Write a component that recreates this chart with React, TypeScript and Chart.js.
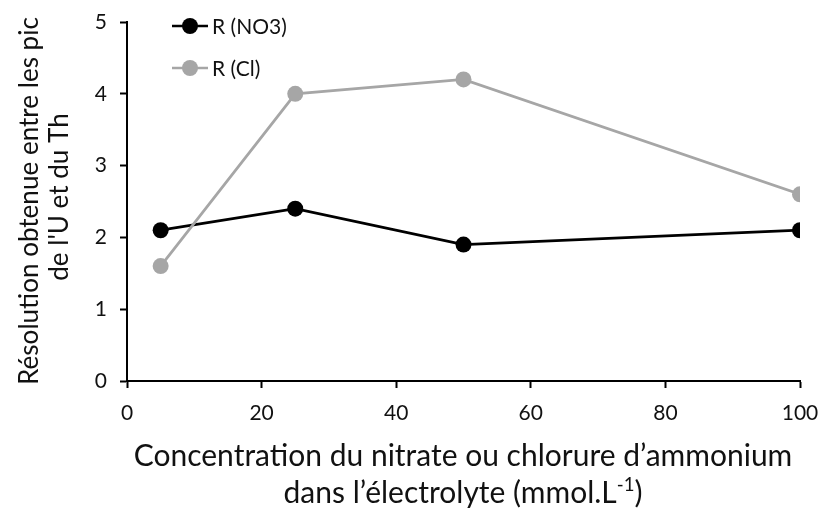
import React, { useEffect, useRef } from "react";
import { Chart, registerables } from "chart.js";

Chart.register(...registerables);

const concentrations = [5, 25, 50, 100];
const rNO3 = [2.1, 2.4, 1.9, 2.1];
const rCl = [1.6, 4.0, 4.2, 2.6];
const seriesLabels = ["R (NO3)", "R (Cl)"];
const seriesColors = ["#000000", "#A6A6A6"];
const yTitleLines = ["Résolution obtenue entre les pic", "de l'U et du Th"];
const xTitleLine1 = "Concentration du nitrate ou chlorure d\u2019ammonium";
const xTitleLine2Main = "dans l\u2019électrolyte (mmol.L";
const xTitleSup = "-1";
const xTitleLine2End = ")";

const FONT = "Lato, 'Open Sans', sans-serif";
const TEXT = "#111111";

function fitSize(ctx: CanvasRenderingContext2D, text: string, width: number) {
  ctx.font = `100px ${FONT}`;
  const w = ctx.measureText(text).width;
  return (100 * width) / w;
}

const textPlugin = {
  id: "customText",
  afterDraw(chart: any) {
    const ctx: CanvasRenderingContext2D = chart.ctx;
    ctx.save();
    ctx.fillStyle = TEXT;
    // X title line 1
    const s1 = Math.min(30, fitSize(ctx, xTitleLine1, 664));
    ctx.font = `${s1}px ${FONT}`;
    ctx.textBaseline = "alphabetic";
    ctx.textAlign = "center";
    const cx = 463;
    ctx.fillText(xTitleLine1, cx, 466);
    // X title line 2 with superscript
    ctx.font = `${s1}px ${FONT}`;
    const wMain = ctx.measureText(xTitleLine2Main).width;
    const wEnd = ctx.measureText(xTitleLine2End).width;
    const supSize = s1 * 0.62;
    ctx.font = `${supSize}px ${FONT}`;
    const wSup = ctx.measureText(xTitleSup).width;
    const total = wMain + wSup + wEnd;
    let x = cx - total / 2;
    ctx.textAlign = "left";
    ctx.font = `${s1}px ${FONT}`;
    ctx.fillText(xTitleLine2Main, x, 503);
    x += wMain;
    ctx.font = `${supSize}px ${FONT}`;
    ctx.fillText(xTitleSup, x, 503 - s1 * 0.4);
    x += wSup;
    ctx.font = `${s1}px ${FONT}`;
    ctx.fillText(xTitleLine2End, x, 503);

    // Y title
    const cy = 201;
    const sy = Math.min(30, fitSize(ctx, yTitleLines[0], 368));
    ctx.font = `${sy}px ${FONT}`;
    ctx.textAlign = "center";
    ctx.textBaseline = "alphabetic";
    ctx.save();
    ctx.translate(38, cy);
    ctx.rotate(-Math.PI / 2);
    ctx.fillText(yTitleLines[0], 0, 0);
    ctx.restore();
    ctx.save();
    ctx.translate(68, cy - 4);
    ctx.rotate(-Math.PI / 2);
    ctx.fillText(yTitleLines[1], 0, 0);
    ctx.restore();

    // Legend
    const rows = [26, 68];
    ctx.font = `21px ${FONT}`;
    ctx.textAlign = "left";
    ctx.textBaseline = "middle";
    rows.forEach((y, i) => {
      ctx.strokeStyle = seriesColors[i];
      ctx.lineWidth = 2.5;
      ctx.beginPath();
      ctx.moveTo(172, y);
      ctx.lineTo(208, y);
      ctx.stroke();
      ctx.fillStyle = seriesColors[i];
      ctx.beginPath();
      ctx.arc(190, y, 8, 0, Math.PI * 2);
      ctx.fill();
      ctx.fillStyle = TEXT;
      ctx.fillText(seriesLabels[i], 212, y + 1);
    });
    ctx.restore();
  },
};

export default function App() {
  const ref = useRef<HTMLCanvasElement | null>(null);
  useEffect(() => {
    if (!ref.current) return;
    const makeData = (vals: number[]) => concentrations.map((c, i) => ({ x: c, y: vals[i] }));
    const chart = new Chart(ref.current, {
      type: "line",
      data: {
        datasets: [
          {
            label: seriesLabels[1],
            data: makeData(rCl),
            borderColor: seriesColors[1],
            backgroundColor: seriesColors[1],
            borderWidth: 2.75,
            pointRadius: 8,
            pointHoverRadius: 8,
            pointBorderWidth: 0,
            tension: 0,
          },
          {
            label: seriesLabels[0],
            data: makeData(rNO3),
            borderColor: seriesColors[0],
            backgroundColor: seriesColors[0],
            borderWidth: 2.75,
            pointRadius: 8,
            pointHoverRadius: 8,
            pointBorderWidth: 0,
            tension: 0,
          },
        ],
      },
      options: {
        animation: false,
        responsive: false,
        layout: { padding: { top: 22, right: 22, left: 0, bottom: 0 } },
        plugins: {
          legend: { display: false },
          tooltip: { enabled: false },
          title: { display: false },
        },
        scales: {
          x: {
            type: "linear",
            min: 0,
            max: 100,
            ticks: {
              stepSize: 20,
              color: TEXT,
              font: { family: FONT, size: 21 },
              padding: 13,
              maxRotation: 0,
            },
            grid: {
              drawOnChartArea: false,
              drawTicks: true,
              tickLength: 7,
              tickWidth: 2,
              tickColor: "#000",
              color: "#000",
            },
            border: { display: true, color: "#000", width: 2 },
            afterFit: (scale: any) => {
              scale.height = 127;
              scale.paddingRight = 0;
              scale.paddingLeft = 0;
            },
          },
          y: {
            type: "linear",
            min: 0,
            max: 5,
            ticks: {
              stepSize: 1,
              color: TEXT,
              font: { family: FONT, size: 21 },
              padding: 13,
            },
            grid: {
              drawOnChartArea: false,
              drawTicks: true,
              tickLength: 7,
              tickWidth: 2,
              tickColor: "#000",
              color: "#000",
            },
            border: { display: true, color: "#000", width: 2 },
            afterFit: (scale: any) => {
              scale.width = 127;
              scale.paddingTop = 0;
              scale.paddingBottom = 0;
            },
          },
        },
      },
      plugins: [textPlugin],
    } as any);
    return () => chart.destroy();
  }, []);
  return (
    <div style={{ position: "fixed", left: 0, top: 0, width: 822, height: 508, background: "#fff" }}>
      <canvas ref={ref} width={822} height={508} />
    </div>
  );
}
